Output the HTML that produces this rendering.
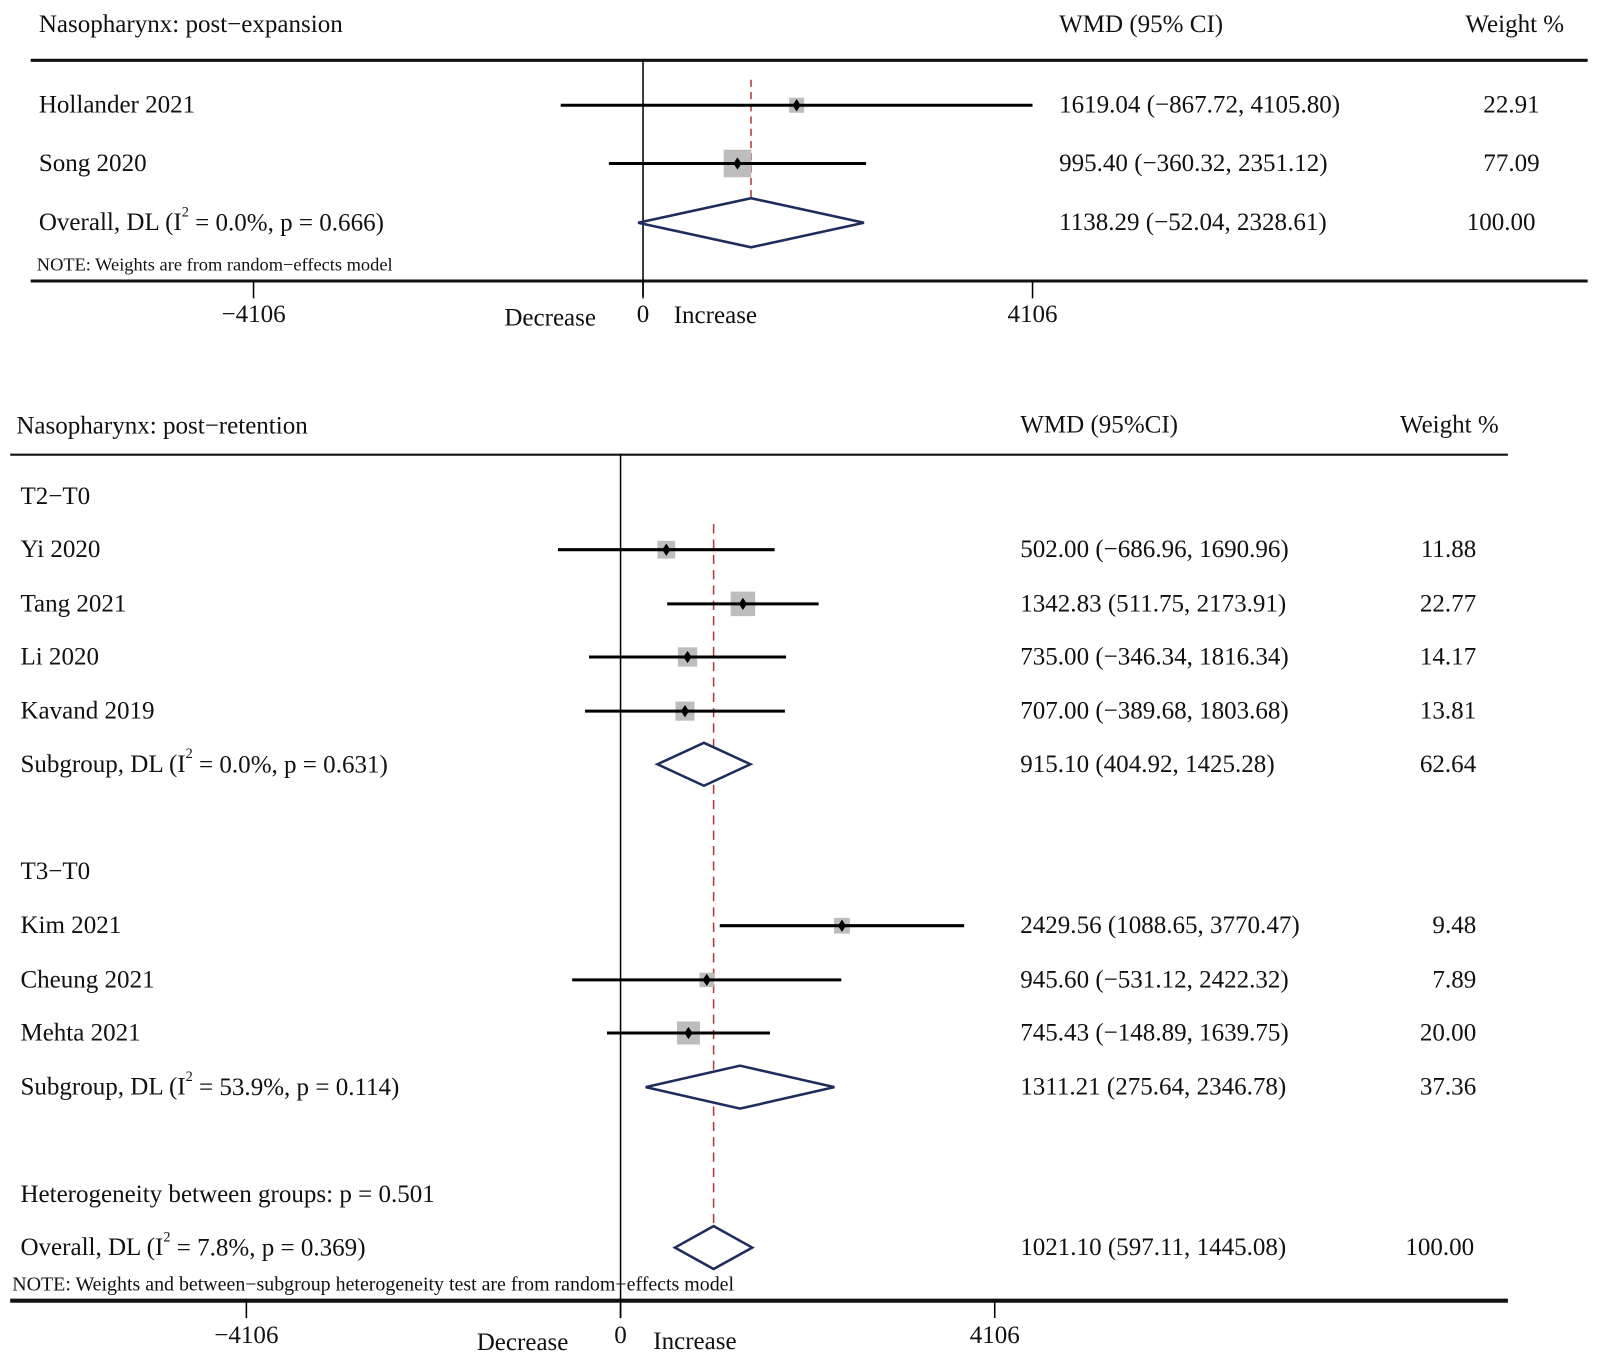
<!DOCTYPE html>
<html><head><meta charset="utf-8">
<style>
html,body{margin:0;padding:0;background:#fff;}
svg{display:block;}
text{font-family:"Liberation Serif",serif;fill:#111;}
</style></head>
<body>
<svg id="chart" width="1603" height="1362" viewBox="0 0 1568 1333" preserveAspectRatio="none" xmlns="http://www.w3.org/2000/svg"></svg>
<script>
// ---- Panel 1 data: post-expansion ----
const p1Labels = ["Hollander 2021","Song 2020"];
const p1Est = [1619.04, 995.40];
const p1Lo = [-867.72, -360.32];
const p1Hi = [4105.80, 2351.12];
const p1Wt = [22.91, 77.09];
const p1Overall = [1138.29, -52.04, 2328.61];
// ---- Panel 2 data: post-retention ----
const p2Labels = ["Yi 2020","Tang 2021","Li 2020","Kavand 2019","Kim 2021","Cheung 2021","Mehta 2021"];
const p2Est = [502.00, 1342.83, 735.00, 707.00, 2429.56, 945.60, 745.43];
const p2Lo = [-686.96, 511.75, -346.34, -389.68, 1088.65, -531.12, -148.89];
const p2Hi = [1690.96, 2173.91, 1816.34, 1803.68, 3770.47, 2422.32, 1639.75];
const p2Wt = [11.88, 22.77, 14.17, 13.81, 9.48, 7.89, 20.00];
const p2Sub1 = [915.10, 404.92, 1425.28];
const p2Sub2 = [1311.21, 275.64, 2346.78];
const p2Overall = [1021.10, 597.11, 1445.08];
const tickVals = [-4106, 0, 4106];

const FS = 24.5;
const svg = document.getElementById('chart');
const NS = "http://www.w3.org/2000/svg";
function el(tag, attrs, name){
  const e = document.createElementNS(NS, tag);
  for (const k in attrs) e.setAttribute(k, attrs[k]);
  
  
  svg.appendChild(e);
  return e;
}
function txt(x,y,s,name,size,anchor){
  const t = el('text',{x:x,y:y,'font-size':size||FS,'text-anchor':anchor||'start','dominant-baseline':'central'},name);
  t.textContent = s;
  return t;
}
function supTxt(x,y,pre,post,name){
  const t = el('text',{x:x,y:y,'font-size':FS,'dominant-baseline':'central'},name);
  t.appendChild(document.createTextNode(pre+"I"));
  const s = document.createElementNS(NS,'tspan');
  s.setAttribute('font-size','14'); s.setAttribute('dy','-10'); s.textContent='2';
  t.appendChild(s);
  const r = document.createElementNS(NS,'tspan');
  r.setAttribute('dy','10'); r.textContent = post;
  t.appendChild(r);
}
const f2 = v => v.toFixed(2).replace('-', '\u2212');
const ci = (e,l,h) => f2(e)+" ("+f2(l)+", "+f2(h)+")";

function study(sx, y, e, lo, hi, w, wmax, boxMax, label, i, labX, ciX, wX){
  const x1 = sx(lo), x2 = sx(hi), xc = sx(e);
  const side = boxMax*Math.sqrt(w/wmax);
  el('rect',{x:xc-side/2,y:y-side/2,width:side,height:side,fill:'#bdbdbd'},'weight-box-'+i);
  el('line',{x1:x1,y1:y,x2:x2,y2:y,stroke:'#000','stroke-width':3},'ci-line-'+i);
  el('polygon',{points:`${xc},${y-6} ${xc+4},${y} ${xc},${y+6} ${xc-4},${y}`,fill:'#000'},'point-estimate-'+i);
  txt(labX,y,label,'study-label-'+i);
  txt(ciX,y,ci(e,lo,hi),'study-ci-'+i);
  txt(wX,y,w.toFixed(2),'study-weight-'+i,FS,'end');
}
function diamond(sx,y,v,h,name){
  el('polygon',{points:`${sx(v[1])},${y} ${sx(v[0])},${y-h} ${sx(v[2])},${y} ${sx(v[0])},${y+h}`,fill:'#fff',stroke:'#1f2d5c','stroke-width':2.5},name);
}

// ===== Panel 1 =====
{
  const x0=629, pxPer=381/4106;
  const sx = v => x0 + v*pxPer;
  txt(38,24,"Nasopharynx: post\u2212expansion",'panel1-title');
  txt(1036,24,"WMD (95% CI)",'panel1-ci-header');
  txt(1530,24,"Weight %",'panel1-weight-header',FS,'end');
  el('line',{x1:30,y1:59,x2:1553,y2:59,stroke:'#111','stroke-width':3},'panel1-top-rule');
  el('line',{x1:30,y1:275,x2:1553,y2:275,stroke:'#111','stroke-width':3},'panel1-bottom-rule');
  el('line',{x1:x0,y1:59,x2:x0,y2:290,stroke:'#000','stroke-width':1.5},'panel1-zero-line');
  el('line',{x1:sx(p1Overall[0]),y1:78,x2:sx(p1Overall[0]),y2:246,stroke:'#b03a3a','stroke-width':1.5,'stroke-dasharray':'7,5'},'panel1-overall-dashed');
  const ys=[103,160];
  const wmax=Math.max(...p1Wt);
  p1Labels.forEach((l,i)=>study(sx,ys[i],p1Est[i],p1Lo[i],p1Hi[i],p1Wt[i],wmax,27,l,'p1-'+i,38,1036,1506));
  diamond(sx,218,p1Overall,24,'panel1-overall-diamond');
  supTxt(38,218,"Overall, DL (",` = 0.0%, p = 0.666)`,'panel1-overall-label');
  txt(1036,218,ci(...p1Overall),'panel1-overall-ci');
  txt(1502,218,"100.00",'panel1-overall-weight',FS,'end');
  txt(36,259,"NOTE: Weights are from random\u2212effects model",'panel1-note',18);
  tickVals.forEach((t,i)=>{
    el('line',{x1:sx(t),y1:275,x2:sx(t),y2:292,stroke:'#000','stroke-width':1.5},'panel1-tick-'+i);
    txt(sx(t),308,t===0?"0":(t<0?"\u2212"+(-t):""+t),'panel1-tick-label-'+i,FS,'middle');
  });
  txt(583,311,"Decrease",'panel1-decrease-label',FS,'end');
  txt(659,309,"Increase",'panel1-increase-label');
}

// ===== Panel 2 =====
{
  const x0=607, pxPer=366/4106;
  const sx = v => x0 + v*pxPer;
  txt(16,417,"Nasopharynx: post\u2212retention",'panel2-title');
  txt(998,416,"WMD (95%CI)",'panel2-ci-header');
  txt(1466,416,"Weight %",'panel2-weight-header',FS,'end');
  el('line',{x1:10,y1:445,x2:1475,y2:445,stroke:'#111','stroke-width':2},'panel2-top-rule');
  el('line',{x1:10,y1:1273,x2:1475,y2:1273,stroke:'#111','stroke-width':4},'panel2-bottom-rule');
  el('line',{x1:x0,y1:445,x2:x0,y2:1290,stroke:'#000','stroke-width':1.5},'panel2-zero-line');
  el('line',{x1:sx(p2Overall[0]),y1:513,x2:sx(p2Overall[0]),y2:1245,stroke:'#b03a3a','stroke-width':1.5,'stroke-dasharray':'9,6'},'panel2-overall-dashed');
  txt(20,486,"T2\u2212T0",'subgroup1-header');
  txt(20,853,"T3\u2212T0",'subgroup2-header');
  const ys=[538,591,643,696,906,959,1011];
  const wmax=Math.max(...p2Wt);
  p2Labels.forEach((l,i)=>study(sx,ys[i],p2Est[i],p2Lo[i],p2Hi[i],p2Wt[i],wmax,24,l,'p2-'+i,20,998,1444));
  diamond(sx,748,p2Sub1,21,'subgroup1-diamond');
  supTxt(20,748,"Subgroup, DL (",` = 0.0%, p = 0.631)`,'subgroup1-label');
  txt(998,748,ci(...p2Sub1),'subgroup1-ci');
  txt(1444,748,"62.64",'subgroup1-weight',FS,'end');
  diamond(sx,1064,p2Sub2,21,'subgroup2-diamond');
  supTxt(20,1064,"Subgroup, DL (",` = 53.9%, p = 0.114)`,'subgroup2-label');
  txt(998,1064,ci(...p2Sub2),'subgroup2-ci');
  txt(1444,1064,"37.36",'subgroup2-weight',FS,'end');
  txt(20,1169,"Heterogeneity between groups: p = 0.501",'heterogeneity-label');
  diamond(sx,1221,p2Overall,21,'panel2-overall-diamond');
  supTxt(20,1221,"Overall, DL (",` = 7.8%, p = 0.369)`,'panel2-overall-label');
  txt(998,1221,ci(...p2Overall),'panel2-overall-ci');
  txt(1442,1221,"100.00",'panel2-overall-weight',FS,'end');
  txt(12,1257,"NOTE: Weights and between\u2212subgroup heterogeneity test are from random\u2212effects model",'panel2-note',19.5);
  tickVals.forEach((t,i)=>{
    el('line',{x1:sx(t),y1:1273,x2:sx(t),y2:1290,stroke:'#000','stroke-width':1.5},'panel2-tick-'+i);
    txt(sx(t),1307,t===0?"0":(t<0?"\u2212"+(-t):""+t),'panel2-tick-label-'+i,FS,'middle');
  });
  txt(556,1314,"Decrease",'panel2-decrease-label',FS,'end');
  txt(639,1313,"Increase",'panel2-increase-label');
}
</script>
</body></html>
